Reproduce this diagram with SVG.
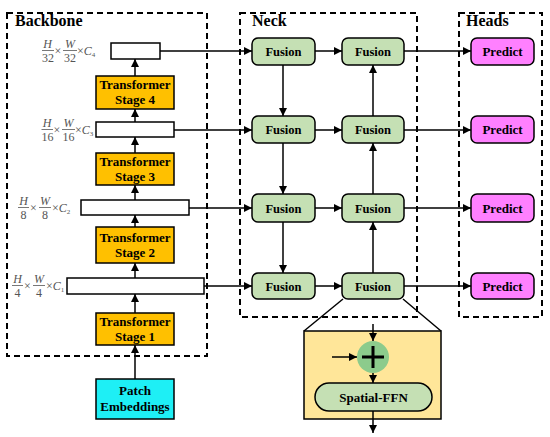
<svg xmlns="http://www.w3.org/2000/svg" width="550" height="437" viewBox="0 0 550 437">
<defs>
<marker id="ah" viewBox="0 0 10 10" refX="10" refY="5" markerWidth="8" markerHeight="8" markerUnits="userSpaceOnUse" orient="auto">
<path d="M0,0 L10,5 L0,10 z" fill="#000"/>
</marker>
</defs>
<style>
.dash{fill:none;stroke:#000;stroke-width:2;stroke-dasharray:6,4}
.title{font-family:"Liberation Serif",serif;font-weight:bold;font-size:16px;fill:#000}
.lbl{font-family:"Liberation Serif",serif;font-weight:bold;font-size:13px;fill:#000;text-anchor:middle}
.fus{font-size:12.5px}
.stage{fill:#FFC000;stroke:#000;stroke-width:1.5}
.feat{fill:#fff;stroke:#000;stroke-width:1.5}
.fusion{fill:#C5E0B4;stroke:#000;stroke-width:1.5}
.pred{fill:#FF80FF;stroke:#000;stroke-width:1.5}
.patch{fill:#1EEFF5;stroke:#000;stroke-width:1.5}
.math{font-family:"Liberation Serif",serif;font-size:12px;fill:#555}
.it{font-style:italic}
.fl{stroke:#555;stroke-width:0.8}
.c{fill:none;stroke:#000;stroke-width:1.5}
.ca{fill:none;stroke:#000;stroke-width:1.5;marker-end:url(#ah)}
</style>

<g id="regions">
<rect class="dash" x="7" y="13" width="200" height="343"/>
<text class="title" x="15" y="26">Backbone</text>
<rect class="dash" x="240" y="13" width="177" height="304"/>
<text class="title" x="252" y="26">Neck</text>
<rect class="dash" x="459" y="13" width="83" height="304"/>
<text class="title" x="466" y="26">Heads</text>
</g>

<g id="connectors">
<path class="ca" d="M135,379 V345"/>
<path class="ca" d="M135,313 V294"/>
<path class="ca" d="M135,278 V263"/>
<path class="ca" d="M135,227 V215"/>
<path class="ca" d="M135,200 V185"/>
<path class="ca" d="M135,153 V137"/>
<path class="ca" d="M135,122 V109"/>
<path class="ca" d="M135,76 V59"/>
<path class="ca" d="M160,51 H252"/>
<path class="ca" d="M174,130 H252"/>
<path class="ca" d="M189,208 H252"/>
<path class="ca" d="M204,286 H252"/>
<path class="ca" d="M315,51 H342"/>
<path class="ca" d="M315,130 H342"/>
<path class="ca" d="M315,208 H342"/>
<path class="ca" d="M315,286 H342"/>
<path class="ca" d="M404,51 H471"/>
<path class="ca" d="M404,130 H471"/>
<path class="ca" d="M404,208 H471"/>
<path class="ca" d="M404,286 H471"/>
<path class="ca" d="M283,65 V116"/>
<path class="ca" d="M283,143 V194"/>
<path class="ca" d="M283,222 V273"/>
<path class="ca" d="M373,273 V222"/>
<path class="ca" d="M373,194 V143"/>
<path class="ca" d="M373,116 V65"/>
<path class="c" d="M343,299 L304,331"/>
<path class="c" d="M403,299 L441,331"/>
</g>

<g id="feature-maps">
<rect class="feat" x="111" y="43" width="49" height="16"/>
<rect class="feat" x="96" y="122" width="78" height="15"/>
<rect class="feat" x="81" y="200" width="108" height="15"/>
<rect class="feat" x="67" y="278" width="137" height="16"/>
</g>

<g id="math-labels">
<g id="m4">
<text class="math it" x="47.5" y="47.5" text-anchor="middle">H</text>
<line class="fl" x1="42" y1="50.5" x2="54" y2="50.5"/>
<text class="math" x="48" y="62" text-anchor="middle">32</text>
<text class="math" x="54.5" y="55">×</text>
<text class="math it" x="70" y="47.5" text-anchor="middle">W</text>
<line class="fl" x1="63" y1="50.5" x2="77" y2="50.5"/>
<text class="math" x="70" y="62" text-anchor="middle">32</text>
<text class="math" x="77" y="55">×<tspan class="it">C</tspan><tspan font-size="7" dy="2">4</tspan></text>
</g>
<g id="m3">
<text class="math it" x="47" y="126.5" text-anchor="middle">H</text>
<line class="fl" x1="41.5" y1="129.5" x2="53" y2="129.5"/>
<text class="math" x="47.5" y="141" text-anchor="middle">16</text>
<text class="math" x="53.5" y="134">×</text>
<text class="math it" x="68.5" y="126.5" text-anchor="middle">W</text>
<line class="fl" x1="62" y1="129.5" x2="75" y2="129.5"/>
<text class="math" x="68.5" y="141" text-anchor="middle">16</text>
<text class="math" x="75" y="134">×<tspan class="it">C</tspan><tspan font-size="7" dy="2">3</tspan></text>
</g>
<g id="m2">
<text class="math it" x="23.5" y="204.5" text-anchor="middle">H</text>
<line class="fl" x1="18" y1="207.5" x2="29" y2="207.5"/>
<text class="math" x="23.5" y="219" text-anchor="middle">8</text>
<text class="math" x="30" y="212">×</text>
<text class="math it" x="45" y="204.5" text-anchor="middle">W</text>
<line class="fl" x1="39" y1="207.5" x2="51" y2="207.5"/>
<text class="math" x="45" y="219" text-anchor="middle">8</text>
<text class="math" x="52" y="212">×<tspan class="it">C</tspan><tspan font-size="7" dy="2">2</tspan></text>
</g>
<g id="m1">
<text class="math it" x="17.5" y="282.5" text-anchor="middle">H</text>
<line class="fl" x1="12" y1="285.5" x2="23" y2="285.5"/>
<text class="math" x="17.5" y="297" text-anchor="middle">4</text>
<text class="math" x="24" y="290">×</text>
<text class="math it" x="39" y="282.5" text-anchor="middle">W</text>
<line class="fl" x1="33" y1="285.5" x2="45" y2="285.5"/>
<text class="math" x="39" y="297" text-anchor="middle">4</text>
<text class="math" x="46" y="290">×<tspan class="it">C</tspan><tspan font-size="7" dy="2">1</tspan></text>
</g>
</g>

<g id="stage4"><rect class="stage" x="96" y="76" width="78" height="33"/><text class="lbl" x="135" y="89">Transformer</text><text class="lbl" x="135" y="104">Stage 4</text></g>
<g id="stage3"><rect class="stage" x="96" y="153" width="78" height="32"/><text class="lbl" x="135" y="165.5">Transformer</text><text class="lbl" x="135" y="180.5">Stage 3</text></g>
<g id="stage2"><rect class="stage" x="96" y="227" width="78" height="36"/><text class="lbl" x="135" y="241.5">Transformer</text><text class="lbl" x="135" y="257">Stage 2</text></g>
<g id="stage1"><rect class="stage" x="96" y="313" width="78" height="32"/><text class="lbl" x="135" y="325.5">Transformer</text><text class="lbl" x="135" y="341">Stage 1</text></g>
<g id="patch"><rect class="patch" x="96" y="379" width="78" height="40"/><text class="lbl" x="135" y="395">Patch</text><text class="lbl" x="135" y="411">Embeddings</text></g>

<g id="fusion-1-1"><rect class="fusion" x="252" y="38" width="63" height="27" rx="6"/><text class="lbl fus" x="283.5" y="56">Fusion</text></g>
<g id="fusion-1-2"><rect class="fusion" x="342" y="38" width="62" height="27" rx="6"/><text class="lbl fus" x="373" y="56">Fusion</text></g>
<g id="fusion-2-1"><rect class="fusion" x="252" y="116" width="63" height="27" rx="6"/><text class="lbl fus" x="283.5" y="134">Fusion</text></g>
<g id="fusion-2-2"><rect class="fusion" x="342" y="116" width="62" height="27" rx="6"/><text class="lbl fus" x="373" y="134">Fusion</text></g>
<g id="fusion-3-1"><rect class="fusion" x="252" y="194" width="63" height="28" rx="6"/><text class="lbl fus" x="283.5" y="212.5">Fusion</text></g>
<g id="fusion-3-2"><rect class="fusion" x="342" y="194" width="62" height="28" rx="6"/><text class="lbl fus" x="373" y="212.5">Fusion</text></g>
<g id="fusion-4-1"><rect class="fusion" x="252" y="273" width="63" height="26" rx="6"/><text class="lbl fus" x="283.5" y="290.5">Fusion</text></g>
<g id="fusion-4-2"><rect class="fusion" x="342" y="273" width="62" height="26" rx="6"/><text class="lbl fus" x="373" y="290.5">Fusion</text></g>

<g id="predict-1"><rect class="pred" x="471" y="38" width="63" height="27" rx="6"/><text class="lbl" x="502.5" y="56">Predict</text></g>
<g id="predict-2"><rect class="pred" x="471" y="116" width="63" height="27" rx="6"/><text class="lbl" x="502.5" y="134">Predict</text></g>
<g id="predict-3"><rect class="pred" x="471" y="194" width="63" height="28" rx="6"/><text class="lbl" x="502.5" y="212.5">Predict</text></g>
<g id="predict-4"><rect class="pred" x="471" y="273" width="63" height="26" rx="6"/><text class="lbl" x="502.5" y="290.5">Predict</text></g>

<g id="fusion-detail">
<rect x="304" y="331" width="137" height="88" fill="#FFE699" stroke="#000" stroke-width="1.5"/>
<path class="ca" d="M373,324 V341"/>
<path class="ca" d="M332,357 H357"/>
<circle cx="373" cy="357" r="16" fill="#8CCB8C"/>
<path d="M373,346 V368 M362,357 H384" stroke="#000" stroke-width="3" fill="none"/>
<path class="ca" d="M373,373 V383"/>
<rect class="fusion" x="315" y="383" width="117" height="28" rx="14"/>
<text class="lbl" x="373.5" y="401.5">Spatial-FFN</text>
<path class="ca" d="M373,411 V433"/>
</g>
</svg>
